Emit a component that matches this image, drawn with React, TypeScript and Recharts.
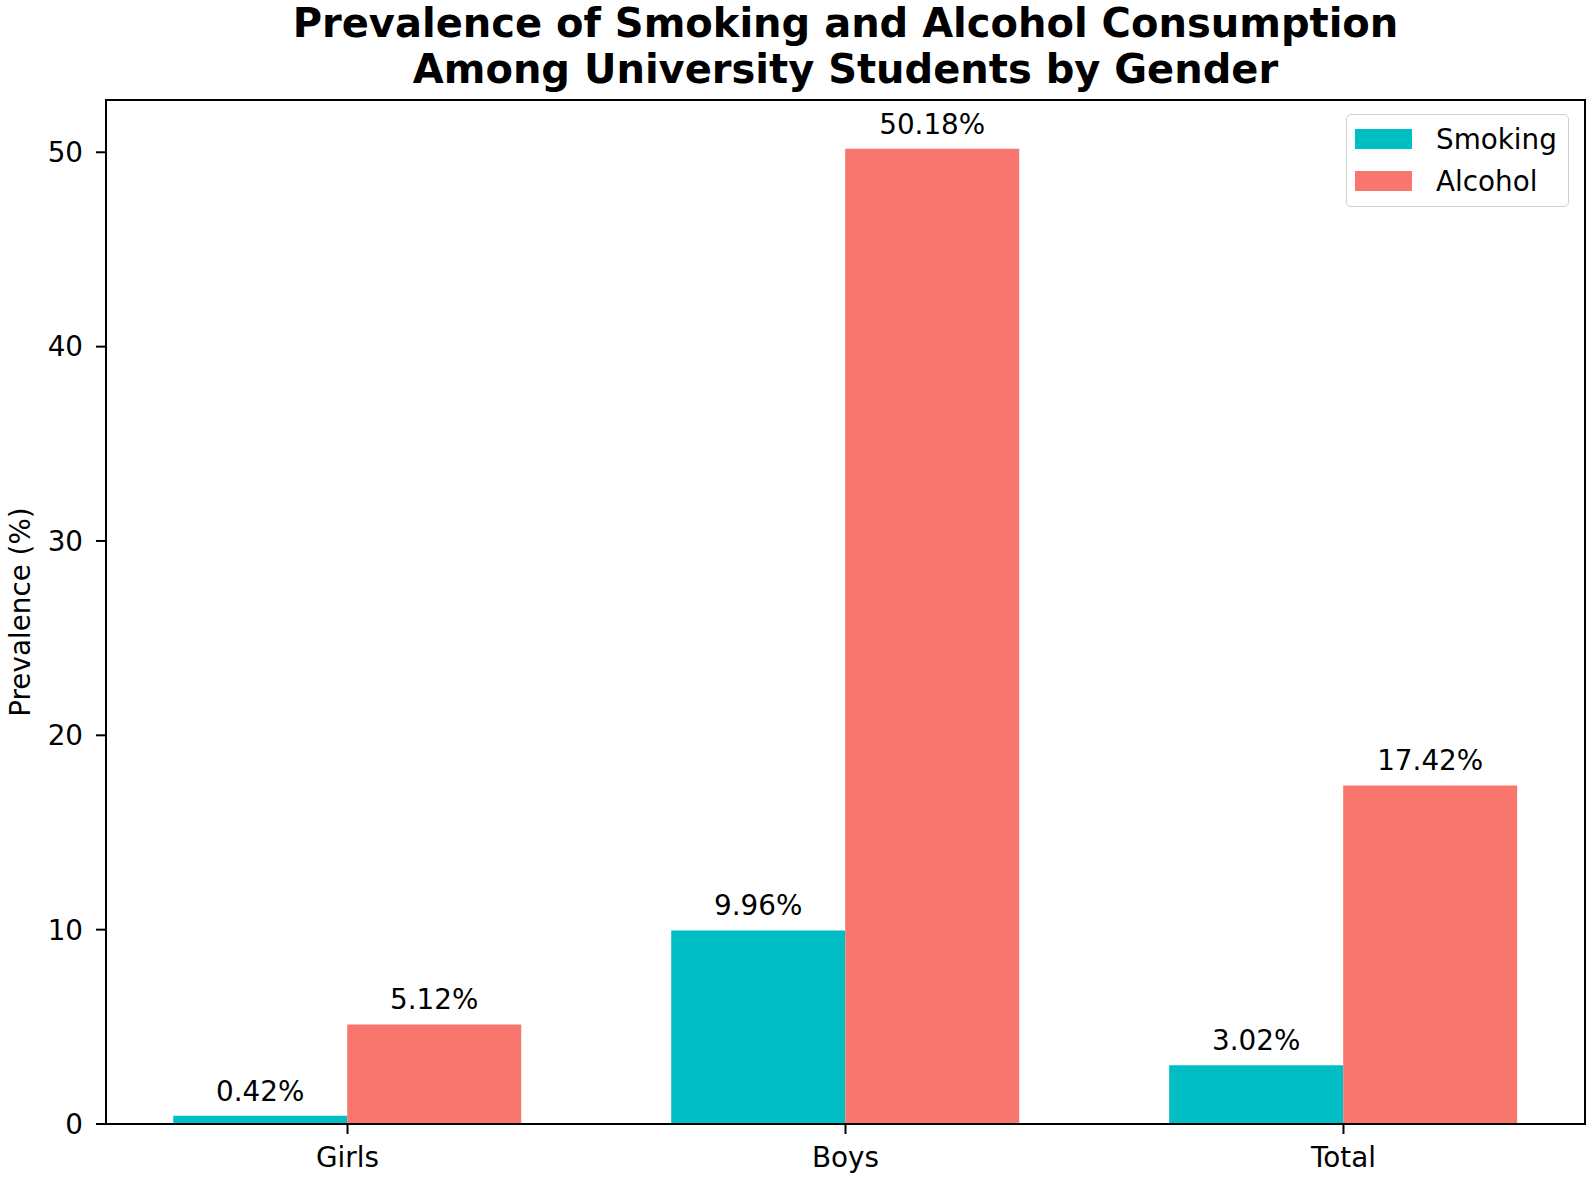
import { BarChart, Bar, XAxis, YAxis, LabelList } from "recharts"

const categories = ["Girls", "Boys", "Total"]
const smoking = [0.42, 9.96, 3.02]
const alcohol = [5.12, 50.18, 17.42]
const yTicks = [0, 10, 20, 30, 40, 50]

const SMOKE = "#00BFC4"
const ALC = "#F8766D"
const FONT = "'DejaVu Sans', sans-serif"
const FS = 27.8

const data = categories.map((name, i) => ({
  x: i,
  name,
  smoking: smoking[i],
  alcohol: alcohol[i],
}))

function LegendBox() {
  const items = [
    { label: "Smoking", color: SMOKE },
    { label: "Alcohol", color: ALC },
  ]
  return (
    <div
      style={{
        position: "absolute",
        left: 1346,
        top: 114,
        width: 223,
        height: 93,
        border: "1px solid #d0d0d0",
        borderRadius: 5,
        background: "rgba(255,255,255,0.8)",
        boxSizing: "border-box",
        paddingTop: 3,
        fontSize: FS,
      }}
    >
      {items.map((it) => (
        <div key={it.label} style={{ display: "flex", alignItems: "center", height: 42 }}>
          <div style={{ width: 57, height: 20, background: it.color, marginLeft: 8, marginRight: 24 }} />
          <span style={{ color: "#000" }}>{it.label}</span>
        </div>
      ))}
    </div>
  )
}

export default function App() {
  const fmt = (v: any) => `${Number(v).toFixed(2)}%`
  return (
    <div style={{ position: "absolute", left: 0, top: 0, width: 1595, height: 1180, background: "#fff", fontFamily: FONT }}>
      <div
        style={{
          position: "absolute",
          left: 106,
          width: 1479,
          top: 0,
          textAlign: "center",
          fontWeight: "bold",
          fontSize: 40,
          lineHeight: "46px",
          color: "#000",
        }}
      >
        Prevalence of Smoking and Alcohol Consumption
        <br />
        Among University Students by Gender
      </div>
      <div
        style={{
          position: "absolute",
          left: 20,
          top: 612,
          transform: "translate(-50%, -50%) rotate(-90deg)",
          fontSize: FS,
          whiteSpace: "nowrap",
          color: "#000",
        }}
      >
        Prevalence (%)
      </div>
      <BarChart
        width={1595}
        height={1180}
        data={data}
        margin={{ top: 100, right: 10, left: 46, bottom: 0 }}
        barCategoryGap="15%"
        barGap={0}
      >
        <XAxis
          dataKey="x"
          type="number"
          domain={[-0.485, 2.485]}
          ticks={[0, 1, 2]}
          tickFormatter={(v: number) => categories[v] ?? ""}
          allowDataOverflow
          height={56}
          tickSize={10}
          tickMargin={13}
          tick={{ fill: "#000", fontSize: FS, fontFamily: FONT }}
          axisLine={{ stroke: "#000", strokeWidth: 2 }}
          tickLine={{ stroke: "#000", strokeWidth: 2 }}
        />
        <YAxis
          type="number"
          domain={[0, 52.69]}
          ticks={yTicks}
          allowDataOverflow
          width={60}
          tickSize={10}
          tickMargin={13}
          tick={{ fill: "#000", fontSize: FS, fontFamily: FONT }}
          axisLine={{ stroke: "#000", strokeWidth: 2 }}
          tickLine={{ stroke: "#000", strokeWidth: 2 }}
        />
        <Bar dataKey="smoking" name="Smoking" fill={SMOKE} isAnimationActive={false}>
          <LabelList dataKey="smoking" position="top" offset={15} formatter={fmt} fill="#000" fontSize={FS} fontFamily={FONT} />
        </Bar>
        <Bar dataKey="alcohol" name="Alcohol" fill={ALC} isAnimationActive={false}>
          <LabelList dataKey="alcohol" position="top" offset={15} formatter={fmt} fill="#000" fontSize={FS} fontFamily={FONT} />
        </Bar>
      </BarChart>
      <div
        style={{
          position: "absolute",
          left: 105,
          top: 99,
          width: 1481,
          height: 1026,
          border: "2px solid #000",
          boxSizing: "border-box",
          pointerEvents: "none",
        }}
      />
      <LegendBox />
    </div>
  )
}
